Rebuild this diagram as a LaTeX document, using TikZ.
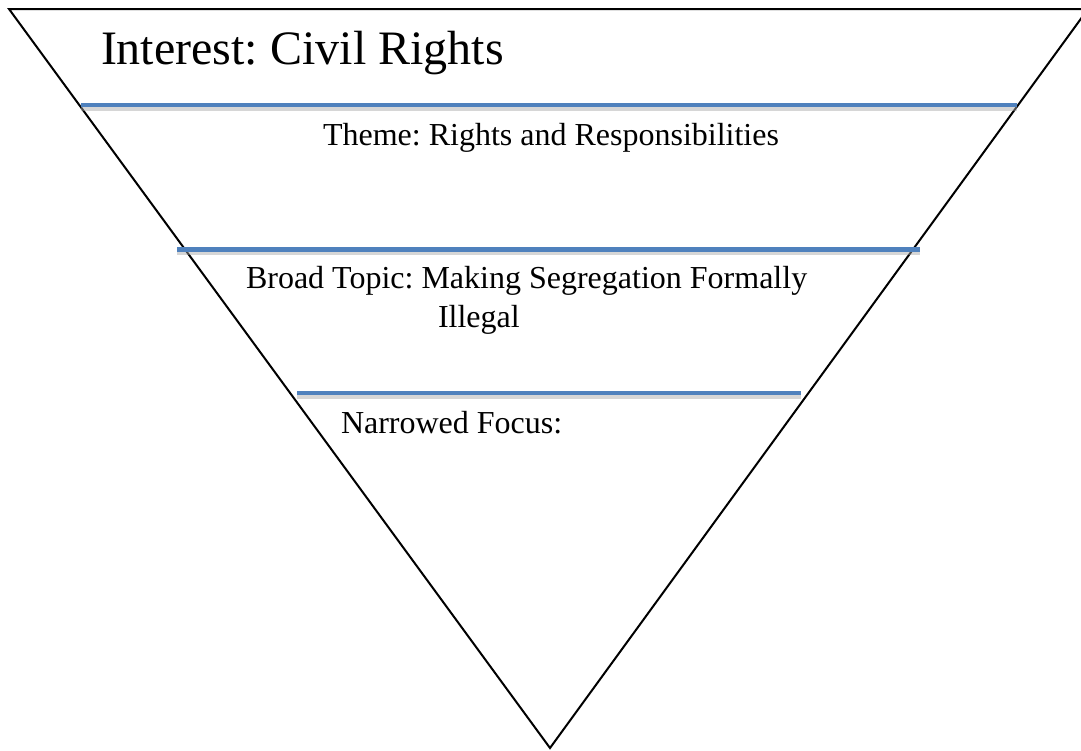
\documentclass[tikz,border=0pt]{standalone}
\usepackage{fontspec}
\setmainfont{Liberation Serif}
\definecolor{officeblue}{HTML}{4F81BD}
\frenchspacing
\begin{document}
\begin{tikzpicture}[x=1pt,y=-1pt,
  funnel/.style={draw=black,line width=2pt,line join=miter},
  level/.style={draw=officeblue,line width=4.6pt},
  levelshadow/.style={draw=black!35,opacity=0.45,line width=4pt},
  lbl/.style={anchor=base west,inner sep=0pt,outer sep=0pt}]
\useasboundingbox (0,0) rectangle (1081,750);
\clip (0,0) rectangle (1081,750);
\fill[white] (0,0) rectangle (1081,750);
\coordinate (tl) at (9,9);
\coordinate (tr) at (1088,9);
\coordinate (apex) at (550,748);
\draw[funnel] (tl) -- (tr) -- (apex) -- cycle;
% level lines
\coordinate (l1a) at (81,105);  \coordinate (l1b) at (1017,105);
\coordinate (l2a) at (177,249.5); \coordinate (l2b) at (920,249.5);
\coordinate (l3a) at (297,393); \coordinate (l3b) at (801,393);
\foreach \a/\b in {l1a/l1b,l2a/l2b,l3a/l3b}{
  \draw[levelshadow] ([yshift=-3.5pt]\a) -- ([yshift=-3.5pt]\b);
}
\draw[level] (l1a) -- (l1b);
\draw[level] (l2a) -- (l2b);
\draw[level] (l3a) -- (l3b);
% labels
\node[lbl] (interest) at (101,64) {\fontsize{48}{58}\selectfont Interest: Civil Rights};
\node[lbl] (theme) at (323,145) {\fontsize{32}{38}\selectfont Theme: Rights and Responsibilities};
\node[lbl] (broad) at (246,288) {\fontsize{32}{38}\selectfont Broad Topic: Making Segregation Formally};
\node[lbl] (illegal) at (438,327) {\fontsize{32}{38}\selectfont Illegal};
\node[lbl] (focus) at (341,433) {\fontsize{32}{38}\selectfont Narrowed Focus:};
\end{tikzpicture}
\end{document}
